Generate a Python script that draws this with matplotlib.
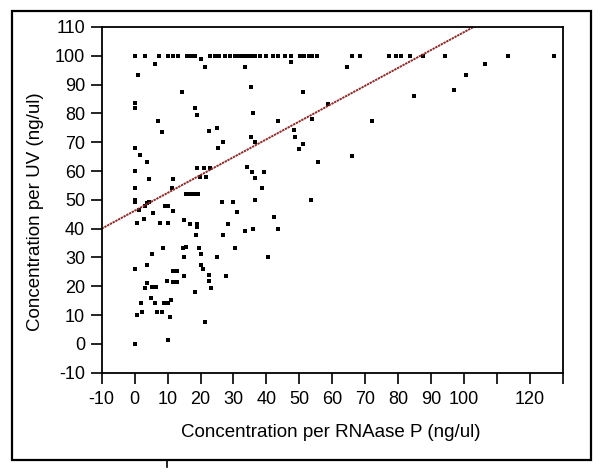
import numpy as np
import matplotlib.pyplot as plt
from matplotlib.patches import Rectangle
from matplotlib.lines import Line2D

plt.rcParams['font.family'] = ['Liberation Sans', 'DejaVu Sans']
plt.rcParams['axes.unicode_minus'] = False

# points sitting on the 100 ng/ul cap
capped_x = [0, 3.2, 7.4, 10.2, 11.6, 13.3, 16, 17, 18.3, 22.9, 24.4, 25.7,
            27.4, 28.9, 30.5, 31.4, 32.5, 33.5, 34.4, 35.5, 36.5, 38, 40, 42,
            43.5, 45.6, 47.6, 50.2, 51.5, 52.8, 54, 55.3, 66.1, 68.5, 77.2,
            79.5, 81, 83.7, 87.7, 94.2, 113.3, 127.4]

# remaining points (RNAase P, UV)
rna_x = [1.0, 6.2, 21.4, 33.6, 47.6, 20.0, 14.3, 35.3, 0, 0, 18.3, 19.0, 35.8,
         7.2, 8.4, 22.5, 24.9, 26.7, 25.4, 35.3, 36.5, 43.5, 48.5, 48.7, 49.9,
         51.0, 51.0, 58.6, 54.0, 55.7, 66.1, 53.5, 72.0, 84.8, 97.1, 100.5,
         106.3, 64.5, 0, 1.5, 3.8, 4.5, 0, 0, 0, 0, 18.8, 21.1, 22.9, 19.8,
         21.7, 15.6, 16.8, 18.1, 19.2, 34.0, 35.7, 36.5, 39.3, 38.7, 36.4,
         11.6, 11.3, 1.2, 3.0, 3.8, 4.5, 9.2, 10.2, 11.5, 5.7, 7.7, 10.2, 0.8,
         2.7, 15.1, 16.8, 18.8, 18.8, 18.6, 26.7, 28.4, 31.0, 33.5, 36.0, 26.5,
         29.9, 42.3, 43.4, 0, 5.2, 8.5, 14.6, 15.5, 15.0, 19.6, 20.2, 3.7,
         11.6, 12.8, 14.9, 9.8, 11.6, 12.8, 3.7, 5.2, 6.5, 3.2, 4.9, 6.3, 2.0,
         9.0, 10.1, 11.0, 2.2, 0.7, 6.7, 8.2, 10.8, 0, 10.2, 18.3, 20.2, 20.8,
         22.6, 22.6, 23.1, 21.4, 24.9, 27.7, 30.5, 40.5]
uv_y = [93.5, 97.3, 96.0, 96.0, 97.8, 99.0, 87.4, 89.3, 83.5, 82.0, 82.0, 79.3,
        80.1, 77.4, 73.4, 74.0, 75.1, 70.0, 67.9, 71.9, 70.0, 77.3, 74.1, 71.9,
        67.7, 69.3, 87.4, 83.3, 78.1, 63.3, 65.3, 49.9, 77.2, 86.0, 88.0, 93.3,
        97.3, 96.0, 67.9, 65.4, 63.3, 57.3, 60.1, 54.0, 50.1, 49.1, 61.2, 61.2,
        61.2, 58.1, 58.1, 52.1, 52.1, 52.1, 52.1, 61.3, 59.5, 57.5, 59.8, 54.0,
        50.0, 57.3, 54.0, 46.5, 48.0, 48.8, 49.4, 48.0, 48.0, 46.2, 45.3, 42.1,
        42.1, 42.1, 43.4, 43.1, 41.5, 41.5, 40.7, 37.8, 37.8, 41.5, 45.7, 39.2,
        39.8, 49.1, 49.1, 43.9, 39.8, 26.0, 31.3, 33.2, 33.4, 33.8, 30.1, 33.4,
        31.2, 27.4, 25.3, 25.3, 23.4, 21.9, 21.4, 21.4, 21.3, 19.9, 19.9, 19.3,
        16.1, 14.1, 14.1, 14.1, 14.1, 15.3, 11.2, 10.1, 11.2, 11.2, 9.2, 0.0,
        1.4, 17.9, 27.4, 26.0, 24.0, 21.9, 19.3, 7.7, 30.1, 23.4, 33.4, 30.1]

fit_slope = 0.62
fit_intercept = 46.2

x_ticks = list(range(-10, 140, 10))
x_labels = [str(t) if t not in (110, 130) else '' for t in x_ticks]
y_ticks = list(range(-10, 120, 10))

fig = plt.figure(figsize=(6, 4.73), dpi=100)
ax = fig.add_axes([0.1695, 0.212, 0.7685, 0.731])

ax.scatter(capped_x, [100] * len(capped_x), s=12, marker='s', color='black', linewidths=0)
ax.scatter(rna_x, uv_y, s=12, marker='s', color='black', linewidths=0)

fx = np.array([-10, 130])
ax.plot(fx, fit_intercept + fit_slope * fx, color='#8a2c2c', lw=1.4,
        linestyle=(0, (1.2, 0.4)))

ax.set_xlim(-10, 130)
ax.set_ylim(-10, 110)
ax.set_xticks(x_ticks)
ax.set_xticklabels(x_labels)
ax.set_yticks(y_ticks)
ax.tick_params(direction='out', length=8, width=1.2, labelsize=13, pad=4, colors='black')
ax.tick_params(axis='x', pad=5)
for s in ax.spines.values():
    s.set_linewidth(1.3)

fig.text(0.552, 1 - 432 / 473, 'Concentration per RNAase P (ng/ul)', ha='center',
         va='center', fontsize=13.5)
fig.text(36 / 600, 1 - 212 / 473, 'Concentration per UV (ng/ul)', ha='center',
         va='center', rotation=90, fontsize=13.5)

# outer frame
fig.patches.append(Rectangle((12 / 600, 1 - 460 / 473), 579 / 600, 449 / 473,
                             transform=fig.transFigure, fill=False, lw=1.6, color='black'))
fig.lines.append(Line2D([167 / 600, 167 / 600], [1 - 460 / 473, 1 - 467 / 473],
                        transform=fig.transFigure, color='black', lw=1.2))

fig.savefig('out.png', dpi=100)
